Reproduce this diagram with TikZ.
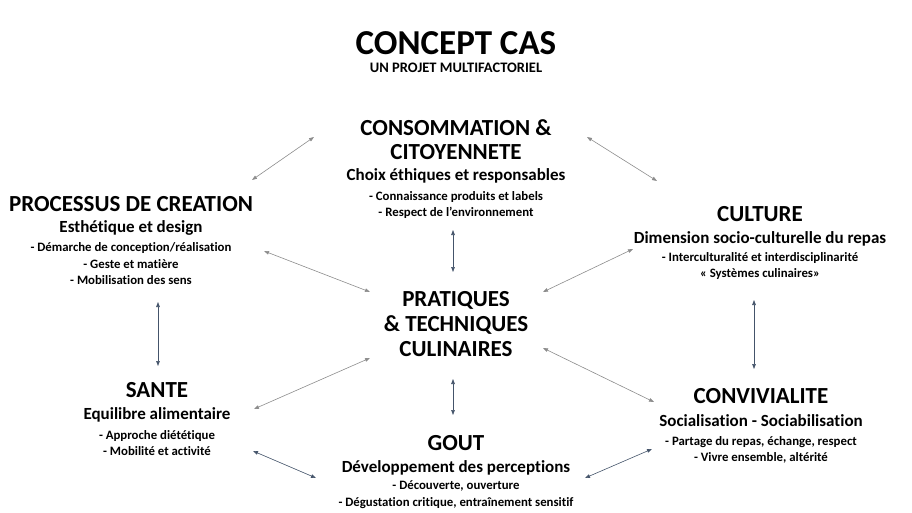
\documentclass[tikz,border=0pt]{standalone}
\usepackage{fontspec}
\setmainfont{Carlito}[Ligatures=NoCommon]
\usetikzlibrary{arrows.meta}

\definecolor{linkgray}{HTML}{8C8C8C}
\definecolor{linkblue}{HTML}{44546A}

\newcommand\hd{\fontsize{23pt}{0pt}\selectfont}
\newcommand\sub{\fontsize{17pt}{0pt}\selectfont}
\newcommand\itm{\fontsize{12.8pt}{0pt}\selectfont}
\newcommand\tightlines{\lineskiplimit=-1000pt\relax\lineskip=0pt\relax}

\tikzset{
  block/.style={align=center, anchor=base, inner sep=0pt,
    font=\bfseries\itm\tightlines},
  link/.style={{Triangle[length=5pt,width=3.6pt]}-{Triangle[length=5pt,width=3.6pt]}, linkgray, line width=0.6pt},
  linkb/.style={link, linkblue}
}

\begin{document}
\begin{tikzpicture}[x=1pt, y=-1pt]

  \useasboundingbox (0,0) rectangle (912,513);

  % title
  \node[inner sep=0pt, anchor=base, font=\bfseries\fontsize{35pt}{40pt}\selectfont] (titre) at (456,55) {CONCEPT CAS};
  \node[inner sep=0pt, anchor=base, font=\bfseries\fontsize{14.5pt}{17pt}\selectfont] (soustitre) at (456,73) {UN PROJET MULTIFACTORIEL};

  % blocks
  \node[block] (cons) at (456,216) {\hd CONSOMMATION \&\\[24pt]\hd CITOYENNETE\\[21pt]\sub Choix éthiques et responsables\\[20pt]- Connaissance produits et labels\\[16pt]- Respect de l’environnement};
  \node[block] (proc) at (131,284) {\hd PROCESSUS DE CREATION\\[21pt]\sub Esthétique et design\\[19pt]- Démarche de conception/réalisation\\[17pt]- Geste et matière\\[16pt]- Mobilisation des sens};
  \node[block] (cult) at (760,277) {\hd CULTURE\\[22pt]\sub Dimension socio-culturelle du repas\\[18pt]- Interculturalité et interdisciplinarité\\[16pt]« Systèmes culinaires»};
  \node[block] (prat) at (456,356) {\hd PRATIQUES\\[25pt]\hd \& TECHNIQUES\\[25pt]\hd CULINAIRES};
  \node[block] (sante) at (157,455) {\hd SANTE\\[22pt]\sub Equilibre alimentaire\\[20pt]- Approche diététique\\[16pt]- Mobilité et activité};
  \node[block] (gout) at (456,506) {\hd GOUT\\[22pt]\sub Développement des perceptions\\[17pt]- Découverte, ouverture\\[17pt]- Dégustation critique, entraînement sensitif};
  \node[block] (conv) at (761,461) {\hd CONVIVIALITE\\[23pt]\sub Socialisation - Sociabilisation\\[19pt]- Partage du repas, échange, respect\\[16pt]- Vivre ensemble, altérité};

  % arrow ends
  \coordinate (pc1) at (252,180); \coordinate (pc2) at (314,137);
  \coordinate (cc1) at (587,137); \coordinate (cc2) at (657,181);
  \coordinate (pp1) at (264,251); \coordinate (pp2) at (370,292);
  \coordinate (cp1) at (543,292); \coordinate (cp2) at (633,249);
  \coordinate (sp1) at (370,358); \coordinate (sp2) at (254,409);
  \coordinate (vp1) at (543,348); \coordinate (vp2) at (654,402);
  \coordinate (ct1) at (453,230); \coordinate (ct2) at (453,272);
  \coordinate (cb1) at (453,379); \coordinate (cb2) at (453,415);
  \coordinate (lv1) at (158,302); \coordinate (lv2) at (158,366);
  \coordinate (rv1) at (754,300); \coordinate (rv2) at (754,369);
  \coordinate (sg1) at (253,451); \coordinate (sg2) at (316,478);
  \coordinate (gv1) at (585,478); \coordinate (gv2) at (652,449);

  \draw[link] (pc1) -- (pc2);
  \draw[link] (cc1) -- (cc2);
  \draw[link] (pp1) -- (pp2);
  \draw[link] (cp1) -- (cp2);
  \draw[link] (sp1) -- (sp2);
  \draw[link] (vp1) -- (vp2);

  \draw[linkb] (ct1) -- (ct2);
  \draw[linkb] (cb1) -- (cb2);
  \draw[linkb] (lv1) -- (lv2);
  \draw[linkb] (rv1) -- (rv2);
  \draw[linkb] (sg1) -- (sg2);
  \draw[linkb] (gv1) -- (gv2);

\end{tikzpicture}
\end{document}
